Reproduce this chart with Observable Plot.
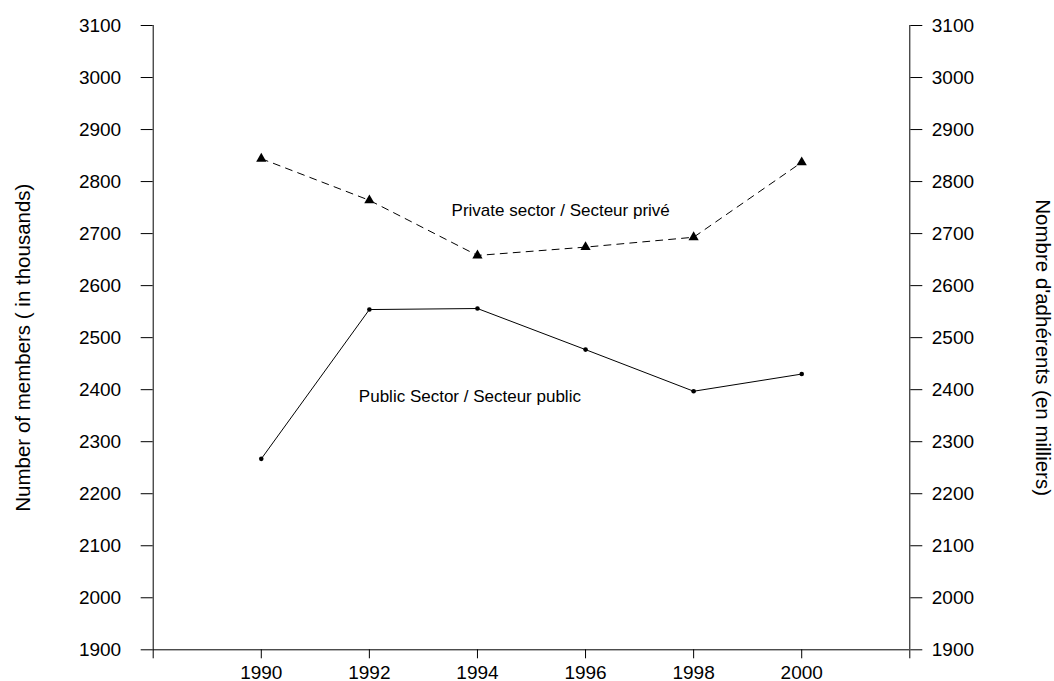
<!DOCTYPE html>
<html>
<head>
<meta charset="utf-8">
<script src="https://cdn.jsdelivr.net/npm/d3@7"></script>
<script src="https://cdn.jsdelivr.net/npm/@observablehq/plot@0.6"></script>
<style>
  html, body { margin: 0; padding: 0; background: #fff; }
  #chart svg { display: block; }
</style>
</head>
<body>
<div id="chart"></div>
<script>
const years = [1990, 1992, 1994, 1996, 1998, 2000];
const privateSector = [2844, 2764, 2658, 2674, 2693, 2837];
const publicSector = [2267, 2554, 2556, 2477, 2397, 2430];
const yTicks = d3.range(1900, 3101, 100);
const xTicks = d3.range(1988, 2003, 2);
const seriesLabels = [
  {x: 1995.54, y: 2745, text: "Private sector / Secteur privé"},
  {x: 1993.86, y: 2386, text: "Public Sector / Secteur public"}
];
const leftTitle = "Number of members ( in thousands)";
const rightTitle = "Nombre d'adhérents (en milliers)";

const priv = years.map((y, i) => ({year: y, value: privateSector[i]}));
const pub = years.map((y, i) => ({year: y, value: publicSector[i]}));

const chart = Plot.plot({
  width: 1054,
  height: 681,
  marginLeft: 152.7,
  marginRight: 144.7,
  marginTop: 25,
  marginBottom: 31.7,
  style: {fontFamily: "'Liberation Sans', Arial, sans-serif", fontSize: "17px", background: "white", color: "black"},
  x: {domain: [1988, 2002], axis: null},
  y: {domain: [1900, 3100], axis: null},
  marks: [
    Plot.ruleX([1988, 2002], {y1: 1900, y2: 3100, stroke: "black"}),
    Plot.ruleY([1900], {x1: 1988, x2: 2002, stroke: "black"}),
    Plot.axisY(yTicks, {anchor: "left", tickSize: 12, tickPadding: 20, label: null, fontSize: 19, tickFormat: d => String(d), stroke: "black"}),
    Plot.axisY(yTicks, {anchor: "right", tickSize: 12, tickPadding: 10, label: null, fontSize: 19, tickFormat: d => String(d), stroke: "black"}),
    Plot.axisX(xTicks, {anchor: "bottom", tickSize: 9, tickPadding: 7, label: null, fontSize: 19, tickFormat: d => (d === 1988 || d === 2002) ? "" : String(d), stroke: "black"}),
    Plot.line(priv, {x: "year", y: "value", stroke: "black", strokeWidth: 1, strokeDasharray: "7,6"}),
    Plot.dot(priv, {x: "year", y: "value", symbol: "triangle", r: 3.8, fill: "black", stroke: "none"}),
    Plot.line(pub, {x: "year", y: "value", stroke: "black", strokeWidth: 1}),
    Plot.dot(pub, {x: "year", y: "value", r: 2.3, fill: "black", stroke: "none"}),
    Plot.text(seriesLabels, {x: "x", y: "y", text: "text", textAnchor: "middle", lineAnchor: "middle", fill: "black"}),
    Plot.text([leftTitle], {frameAnchor: "left", dx: -130, dy: 10, rotate: -90, fontSize: 20.5, textAnchor: "middle", lineAnchor: "middle", fill: "black"}),
    Plot.text([rightTitle], {frameAnchor: "right", dx: 133, dy: 10, rotate: 90, fontSize: 20.5, textAnchor: "middle", lineAnchor: "middle", fill: "black"})
  ]
});
document.getElementById("chart").appendChild(chart);
</script>
</body>
</html>
